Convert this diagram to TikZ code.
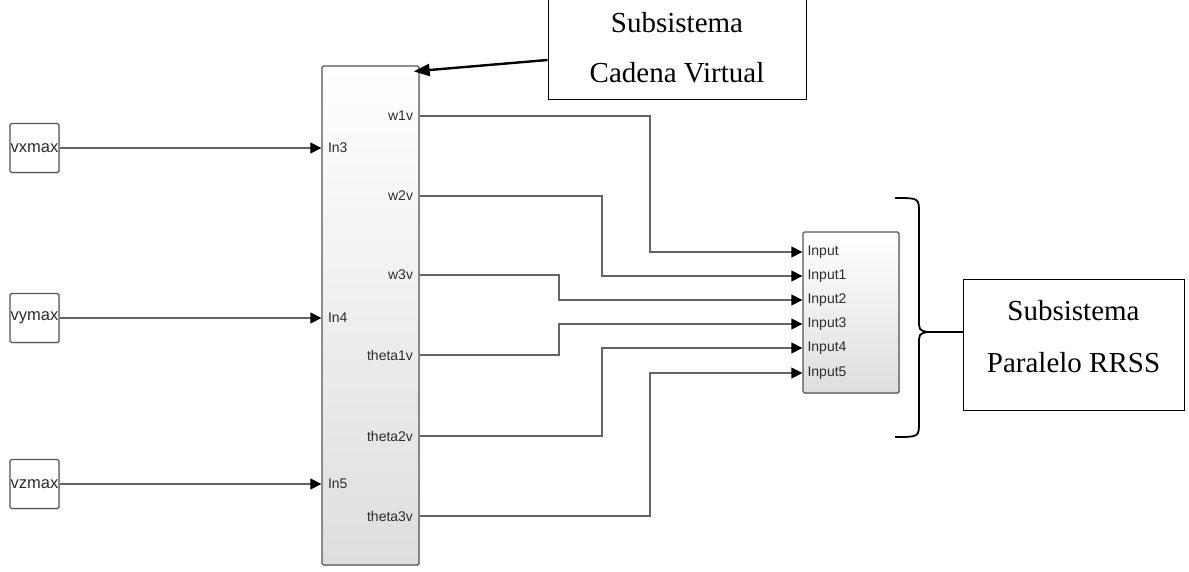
\documentclass[tikz,border=0pt]{standalone}
\usepackage{fontspec}
\setmainfont{Liberation Serif}
\setsansfont{Liberation Sans}
\definecolor{blkline}{RGB}{85, 85, 85}
\definecolor{sigline}{RGB}{100, 100, 100}
\definecolor{porttxt}{RGB}{45, 45, 45}
\usetikzlibrary{arrows.meta, positioning, calc, shadows}

\begin{document}
\begin{tikzpicture}[x=1pt, y=1pt,
  block/.style={draw=blkline, line width=1.3pt, rounded corners=1.5pt,
                top color=white, bottom color=black!13,
                drop shadow={opacity=0.25, shadow xshift=1.2pt, shadow yshift=-1.2pt}},
  const/.style={draw=blkline, line width=1.3pt, rounded corners=1.5pt, fill=white,
                minimum width=49pt, minimum height=49pt, inner sep=0pt, text=porttxt,
                font=\sffamily\fontsize{16.5}{16.5}\selectfont,
                drop shadow={opacity=0.25, shadow xshift=1.2pt, shadow yshift=-1.2pt}},
  sig/.style={draw=sigline, line width=1.3pt},
  sigarr/.style={sig, -{Triangle[length=11pt, width=11pt, color=black]}},
  portin/.style={anchor=west, inner sep=0pt, xshift=6pt, text=porttxt,
                 font=\sffamily\fontsize{14}{14}\selectfont},
  portout/.style={anchor=east, inner sep=0pt, xshift=-6pt, text=porttxt,
                  font=\sffamily\fontsize{14}{14}\selectfont},
  note/.style={draw, line width=1pt, align=center, font=\fontsize{29}{50}\selectfont}
]
  \useasboundingbox (0,0) rectangle (1189,571);

  % subsystem blocks
  \node[block, minimum width=97pt, minimum height=499pt] (cadena) at (370.5,255.5) {};
  \node[block, minimum width=96pt, minimum height=161pt] (paralelo) at (851,258.5) {};

  % constant sources
  \node[const] (vx) at (34.5,423) {vxmax};
  \node[const] (vy) at (34.5,253) {vymax};
  \node[const] (vz) at (34.5,87) {vzmax};

  \draw[sigarr] (vx) -- (vx -| cadena.west) node[portin] (in3) {In3};
  \draw[sigarr] (vy) -- (vy -| cadena.west) node[portin] (in4) {In4};
  \draw[sigarr] (vz) -- (vz -| cadena.west) node[portin] (in5) {In5};

  % outputs of the virtual chain routed to the parallel block
  \foreach \name/\yo/\yi/\xb in {w1v/455/319/650, w2v/375/295/602, w3v/296/271/559,
                                 theta1v/216/247/559, theta2v/135/223/602, theta3v/55/198/650}
    \draw[sigarr] (cadena.east |- 0,\yo) node[portout] (out-\name) {\name}
      -| (\xb,\yi) -- (paralelo.west |- 0,\yi);

  \foreach \lab/\yi in {Input/319, Input1/295, Input2/271, Input3/247, Input4/223, Input5/198}
    \node[portin, xshift=-1pt] (lbl-\lab) at (paralelo.west |- 0,\yi) {\lab};

  % callouts
  \node[note, minimum width=258pt, minimum height=104pt] (noteA) at (677,523.5) {Subsistema\\Cadena Virtual};
  \draw[line width=2.4pt, -{Triangle[length=16pt, width=12pt]}]
    ([yshift=-12.5pt]noteA.west) -- ([shift={(-6pt,-6pt)}]cadena.north east);

  \node[note, minimum width=221pt, minimum height=130pt, text depth=18pt, font=\fontsize{29}{52}\selectfont]
    (noteB) at (1073.5,226) {Subsistema\\Paralelo RRSS};

  % brace around the parallel block
  \draw[line width=1.8pt] (895,373) .. controls (919,373) .. (919,358) -- (919,252)
    .. controls (919,241) .. (927,239) .. controls (919,237) .. (919,226) -- (919,149)
    .. controls (919,134) .. (895,134);
  \coordinate (tip) at (927,239);
  \draw[line width=1.8pt] (tip) -- (noteB.west |- tip);
\end{tikzpicture}
\end{document}
